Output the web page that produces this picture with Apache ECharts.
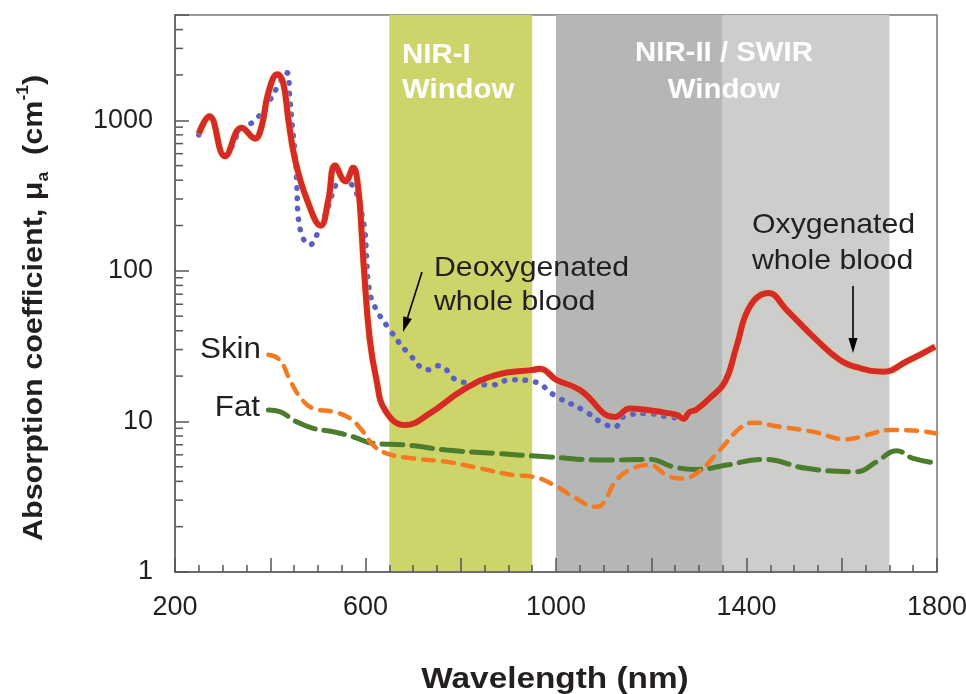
<!DOCTYPE html>
<html>
<head>
<meta charset="utf-8">
<script src="https://cdn.jsdelivr.net/npm/echarts@6/dist/echarts.min.js"></script>
<style>
html, body { margin: 0; padding: 0; background: #fff; }
#main { width: 966px; height: 694px; }
</style>
</head>
<body>
<div id="main"></div>
<script>
// wavelength (nm) and absorption coefficient (cm-1)
var oxyX = [250, 272, 305, 340, 368, 382, 396, 415, 427, 438, 452, 477, 506, 522, 536, 558, 574, 585, 592, 597, 609, 623, 641, 683, 735, 805, 875, 952, 966, 1001, 1050, 1124, 1155, 1200, 1232, 1255, 1267, 1280, 1295, 1323, 1355, 1379, 1407, 1446, 1484, 1547, 1596, 1638, 1687, 1736, 1796];
var oxyY = [817, 1065, 577, 891, 757, 914, 1524, 2018, 1777, 1012, 549, 297, 200, 297, 500, 393, 483, 346, 178, 100, 34.8, 18.9, 11.9, 9.46, 11.3, 16.2, 20.4, 22.0, 22.4, 18.9, 16.2, 10.7, 12.2, 11.8, 11.4, 11.0, 10.4, 11.5, 12.0, 14.3, 18.4, 31.4, 58, 71.2, 55.1, 34.8, 25.6, 22.6, 21.4, 25.0, 31.4];

var deoxyX = [250, 272, 305, 340, 368, 400, 414, 435, 441, 446, 452, 456, 458, 469, 483, 498, 525, 536, 553, 571, 581, 592, 599, 602, 606, 616, 651, 693, 732, 753, 798, 868, 903, 952, 1001, 1057, 1099, 1124, 1141, 1190, 1230, 1265, 1290];
var deoxyY = [800, 1040, 590, 880, 997, 1375, 1645, 2070, 1413, 938, 608, 364, 242, 165, 149, 174, 282, 364, 404, 374, 329, 242, 178, 125, 83, 61, 40.6, 27.7, 22.0, 23.4, 18.4, 17.5, 18.9, 18.4, 14.6, 11.9, 9.7, 9.2, 10.7, 11.3, 10.8, 10.5, 10.8];

var skinX = [396, 420, 441, 462, 490, 532, 567, 592, 616, 644, 700, 770, 840, 910, 952, 1001, 1036, 1085, 1099, 1127, 1162, 1197, 1232, 1260, 1295, 1344, 1386, 1414, 1470, 1540, 1610, 1652, 1701, 1750, 1796];
var skinY = [27.7, 25.6, 18.9, 14.6, 12.2, 11.6, 10.5, 8.77, 6.97, 6.13, 5.68, 5.39, 4.88, 4.40, 4.29, 3.70, 3.16, 2.71, 2.85, 4.07, 4.88, 5.13, 4.40, 4.18, 4.52, 6.45, 9.0, 9.8, 9.2, 8.54, 7.6, 8.12, 8.77, 8.7, 8.34];

var fatX = [396, 420, 455, 490, 532, 574, 616, 686, 770, 875, 980, 1106, 1197, 1246, 1295, 1358, 1435, 1526, 1631, 1673, 1715, 1750, 1796];
var fatY = [11.9, 11.6, 9.95, 9.0, 8.54, 7.91, 7.15, 6.97, 6.45, 6.13, 5.82, 5.54, 5.6, 5.0, 4.80, 5.13, 5.6, 4.88, 4.63, 5.39, 6.38, 5.68, 5.31];

// spectral windows: [start nm, end nm]
var bandRanges = [[650, 950], [1000, 1350], [1350, 1700]];
var bandColors = ['#cdd56a', '#b5b6b6', '#cdcdcc'];

var xLabels = [200, 600, 1000, 1400, 1800];
var yLabels = [1, 10, 100, 1000];
var yMinorTicks = [2, 3, 4, 5, 6, 7, 8, 9, 20, 30, 40, 50, 60, 70, 80, 90, 200, 300, 400, 500, 600, 700, 800, 900, 2000, 3000, 4000];

function pairs(xs, ys) {
    var out = [];
    for (var i = 0; i < xs.length; i++) out.push([xs[i], ys[i]]);
    return out;
}

var fontFamily = '"Liberation Sans", Arial, Helvetica, sans-serif';
var textColor = '#231f20';

function label(text, x, y, opts) {
    opts = opts || {};
    var style = {
        text: text,
        fill: opts.fill || textColor,
        font: (opts.bold ? 'bold ' : '') + (opts.size || 28) + 'px ' + fontFamily,
        align: opts.align || 'left',
        verticalAlign: 'middle'
    };
    if (opts.rich) {
        style.rich = opts.rich;
        style.lineHeight = opts.lineHeight;
    }
    return {
        type: 'text',
        x: x,
        y: y,
        scaleX: opts.scaleX || 1.08,
        rotation: opts.rotation || 0,
        z: 100,
        style: style
    };
}

function arrow(x1, y1, x2, y2) {
    var dx = x2 - x1, dy = y2 - y1;
    var len = Math.sqrt(dx * dx + dy * dy);
    var ux = dx / len, uy = dy / len;
    var bx = x2 - ux * 15, by = y2 - uy * 15;
    var px = -uy * 4.5, py = ux * 4.5;
    return [
        { type: 'line', z: 100, shape: { x1: x1, y1: y1, x2: bx, y2: by }, style: { stroke: '#000', lineWidth: 1.6 } },
        { type: 'polygon', z: 100, shape: { points: [[x2, y2], [bx + px, by + py], [bx - px, by - py]] }, style: { fill: '#000' } }
    ];
}

var tickStyle = { color: '#555', width: 1.5 };
var subStyle = { fontFamily: fontFamily, fontWeight: 'bold', fontSize: 16, fill: textColor, lineHeight: 16 };

var option = {
    backgroundColor: '#fff',
    animation: false,
    grid: {
        left: 175,
        right: 29,
        top: 15,
        bottom: 122,
        show: true,
        borderColor: '#7a7a7a',
        borderWidth: 1.5,
        backgroundColor: 'transparent',
        outerBoundsMode: 'none'
    },
    xAxis: {
        type: 'value',
        z: 10,
        min: 200,
        max: 1800,
        interval: 200,
        axisLine: { show: true, lineStyle: { color: '#6d6d6d', width: 2 } },
        axisTick: { show: true, inside: true, length: 14, lineStyle: tickStyle },
        minorTick: { show: true, splitNumber: 4, length: 7, lineStyle: tickStyle },
        splitLine: { show: false },
        axisLabel: {
            margin: 22,
            fontFamily: fontFamily,
            fontSize: 27,
            color: textColor,
            formatter: function (v) { return xLabels.indexOf(v) >= 0 ? String(v) : ''; }
        }
    },
    yAxis: {
        type: 'log',
        z: 10,
        logBase: 10,
        min: 1,
        max: 5000,
        axisLine: { show: true, lineStyle: { color: '#6d6d6d', width: 2 } },
        axisTick: { show: true, inside: true, length: 14, lineStyle: tickStyle },
        splitLine: { show: false },
        axisLabel: {
            margin: 22,
            fontFamily: fontFamily,
            fontSize: 27,
            color: textColor,
            formatter: function (v) {
                var r = Math.round(v);
                return yLabels.indexOf(r) >= 0 && Math.abs(v - r) < 1e-6 ? String(r) : '';
            }
        }
    },
    series: [
        {
            name: 'windows',
            type: 'custom',
            z: 1,
            silent: true,
            encode: { x: [0, 1] },
            data: bandRanges,
            renderItem: function (params, api) {
                var a = api.coord([api.value(0), 1]);
                var b = api.coord([api.value(1), 1]);
                var cs = params.coordSys;
                return {
                    type: 'rect',
                    shape: { x: a[0], y: cs.y, width: b[0] - a[0], height: cs.height },
                    style: { fill: bandColors[params.dataIndex] }
                };
            }
        },
        {
            name: 'minor ticks',
            type: 'custom',
            z: 3,
            silent: true,
            clip: false,
            encode: { x: 0, y: 1 },
            data: yMinorTicks.map(function (v) { return [200, v]; }),
            renderItem: function (params, api) {
                var p = api.coord([200, api.value(1)]);
                return {
                    type: 'line',
                    shape: { x1: p[0], y1: p[1], x2: p[0] + 8, y2: p[1] },
                    style: { stroke: '#555', lineWidth: 1.5 }
                };
            }
        },
        {
            name: 'Fat',
            type: 'line',
            z: 4,
            data: pairs(fatX, fatY),
            showSymbol: false,
            smooth: 0.45,
            lineStyle: { color: '#4b7d2c', width: 5, type: [21, 9], cap: 'round' }
        },
        {
            name: 'Skin',
            type: 'line',
            z: 5,
            data: pairs(skinX, skinY),
            showSymbol: false,
            smooth: 0.45,
            lineStyle: { color: '#f47a22', width: 4.5, type: [11, 9], cap: 'round' }
        },
        {
            name: 'Deoxygenated whole blood',
            type: 'line',
            z: 6,
            data: pairs(deoxyX, deoxyY),
            showSymbol: false,
            smooth: 0.45,
            lineStyle: { color: '#5a5fc6', width: 5.5, type: [0.5, 10], cap: 'round' }
        },
        {
            name: 'Oxygenated whole blood',
            type: 'line',
            z: 7,
            data: pairs(oxyX, oxyY),
            showSymbol: false,
            smooth: 0.45,
            lineStyle: { color: '#d42a2a', width: 6, shadowColor: 'rgba(245,210,40,0.9)', shadowBlur: 2 }
        }
    ],
    graphic: [
        label('Wavelength (nm)', 555, 680, { bold: true, size: 29, align: 'center', scaleX: 1.15 }),
        label('{t|Absorption coefficient, μ}{s|a}{t|  (cm}{p|-1}{t|)}', 34, 308, {
            bold: true, size: 28, align: 'center', scaleX: 1.09, rotation: Math.PI / 2, lineHeight: 36,
            rich: {
                t: { fontFamily: fontFamily, fontWeight: 'bold', fontSize: 28, fill: textColor, lineHeight: 36, verticalAlign: 'middle' },
                s: Object.assign({ verticalAlign: 'bottom' }, subStyle),
                p: Object.assign({ verticalAlign: 'top' }, subStyle)
            }
        }),
        label('NIR-I', 402, 55, { bold: true, fill: '#ffffff', scaleX: 1.05 }),
        label('Window', 402, 90, { bold: true, fill: '#ffffff', scaleX: 1.05 }),
        label('NIR-II / SWIR', 724, 53, { bold: true, fill: '#ffffff', align: 'center', scaleX: 1.05 }),
        label('Window', 724, 90, { bold: true, fill: '#ffffff', align: 'center', scaleX: 1.05 }),
        label('Deoxygenated', 434, 268),
        label('whole blood', 434, 302),
        label('Oxygenated', 752, 225),
        label('whole blood', 752, 261),
        label('Skin', 261, 350, { align: 'right', size: 29 }),
        label('Fat', 260, 408, { align: 'right', size: 29 })
    ].concat(arrow(422, 272, 403, 332), arrow(853, 286, 853, 353))
};

var chart = echarts.init(document.getElementById('main'));
chart.setOption(option);
</script>
</body>
</html>
